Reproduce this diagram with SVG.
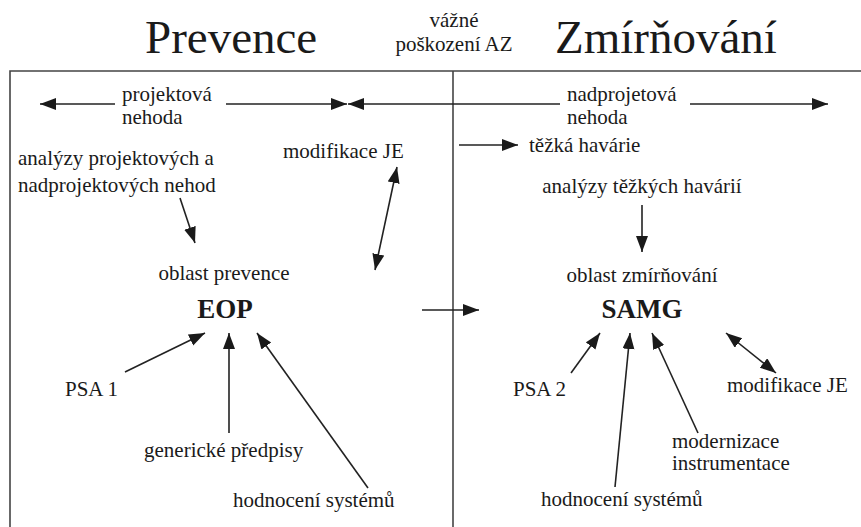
<svg xmlns="http://www.w3.org/2000/svg" width="861" height="527" viewBox="0 0 861 527">
<style>
text{font-family:"Liberation Serif","Times New Roman",serif;fill:#1a1a1a;font-size:21px}
.title{font-size:47px}
.big{font-size:27px;font-weight:bold}
.mid{text-anchor:middle}
.frame{stroke:#444;stroke-width:1.6;fill:none}
.arr{stroke:#222;stroke-width:1.6;fill:none}
</style>
<defs>
<marker id="ah" markerUnits="userSpaceOnUse" markerWidth="18" markerHeight="13" refX="16" refY="6" orient="auto-start-reverse" viewBox="0 0 18 13">
<path d="M0,0 L16,6 L0,12 z" fill="#1a1a1a"/>
</marker>
</defs>
<rect width="861" height="527" fill="#fff"/>
<g id="header">
<text class="title" x="145" y="53">Prevence</text>
<text class="title" x="555" y="53">Zmírňování</text>
<text class="mid" x="454" y="27">vážné</text>
<text class="mid" x="454" y="51">poškození AZ</text>
</g>
<g id="frame">
<path class="frame" d="M861,71 H10 V527"/>
<path class="frame" d="M453,71 V527"/>
</g>
<g id="labels-top">
<text x="122" y="101">projektová</text>
<text x="122" y="124">nehoda</text>
<text x="567" y="101">nadprojetová</text>
<text x="567" y="124">nehoda</text>
</g>
<g id="analyzy-prevence"><text x="18" y="165">analýzy projektových a</text><text x="18" y="192">nadprojektových nehod</text></g>
<g id="modifikace-je-1"><text x="283" y="158">modifikace JE</text></g>
<g id="tezka-havarie"><text x="529" y="152">těžká havárie</text></g>
<g id="analyzy-tezkych"><text class="mid" x="642" y="193">analýzy těžkých havárií</text></g>
<g id="eop"><text class="mid" x="224" y="280">oblast prevence</text><text class="big mid" x="225" y="318">EOP</text></g>
<g id="samg"><text class="mid" x="642" y="282">oblast zmírňování</text><text class="big mid" x="642" y="318">SAMG</text></g>
<g id="psa1"><text x="65" y="396">PSA 1</text></g>
<g id="genericke"><text x="144" y="457">generické předpisy</text></g>
<g id="hodnoceni-1"><text x="233" y="507">hodnocení systémů</text></g>
<g id="psa2"><text x="513" y="396">PSA 2</text></g>
<g id="hodnoceni-2"><text x="541" y="506">hodnocení systémů</text></g>
<g id="modernizace"><text x="672" y="448">modernizace</text><text x="672" y="470">instrumentace</text></g>
<g id="modifikace-je-2"><text x="727" y="392">modifikace JE</text></g>
<g id="connectors">
<line class="arr" x1="115" y1="104" x2="40" y2="104" marker-end="url(#ah)"/>
<line class="arr" x1="226" y1="104" x2="347" y2="104" marker-end="url(#ah)"/>
<line class="arr" x1="560" y1="104" x2="348" y2="104" marker-end="url(#ah)"/>
<line class="arr" x1="690" y1="104" x2="828" y2="104" marker-end="url(#ah)"/>
<line class="arr" x1="180" y1="198" x2="195" y2="243" marker-end="url(#ah)"/>
<line class="arr" x1="397" y1="167" x2="375" y2="270" marker-start="url(#ah)" marker-end="url(#ah)"/>
<line class="arr" x1="422" y1="310" x2="479" y2="310" marker-end="url(#ah)"/>
<line class="arr" x1="459" y1="145" x2="518" y2="145" marker-end="url(#ah)"/>
<line class="arr" x1="642" y1="205" x2="642" y2="252" marker-end="url(#ah)"/>
<line class="arr" x1="125" y1="372" x2="205" y2="333" marker-end="url(#ah)"/>
<line class="arr" x1="229" y1="433" x2="229" y2="333" marker-end="url(#ah)"/>
<line class="arr" x1="368" y1="488" x2="257" y2="333" marker-end="url(#ah)"/>
<line class="arr" x1="571" y1="373" x2="600" y2="333" marker-end="url(#ah)"/>
<line class="arr" x1="615" y1="487" x2="630" y2="333" marker-end="url(#ah)"/>
<line class="arr" x1="698" y1="433" x2="652" y2="333" marker-end="url(#ah)"/>
<line class="arr" x1="726" y1="333" x2="776" y2="373" marker-start="url(#ah)" marker-end="url(#ah)"/>
</g>
</svg>
